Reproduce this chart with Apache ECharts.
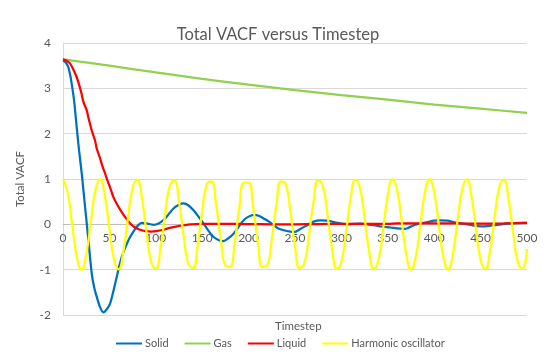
<!DOCTYPE html>
<html>
<head>
<meta charset="utf-8">
<script src="https://cdn.jsdelivr.net/npm/echarts@6/dist/echarts.min.js"></script>
<style>
html,body{margin:0;padding:0;background:#fff;}
#chart{width:549px;height:363px;}
</style>
</head>
<body>
<div id="chart"></div>
<script>
var seriesNames = ['Solid', 'Gas', 'Liquid', 'Harmonic oscillator'];
var xTicks = [0, 50, 100, 150, 200, 250, 300, 350, 400, 450, 500];
var yTicks = [-2, -1, 0, 1, 2, 3, 4];

var solidData = [[0,3.62],[3,3.57],[5.7,3.47],[7.5,3.32],[9.4,3.1],[11.9,2.74],[13.7,2.37],[15.8,1.93],[17.3,1.63],[20.2,1.12],[23.8,0.38],[27.4,-0.35],[31,-1.09],[33.5,-1.38],[36.4,-1.6],[40,-1.83],[43.5,-1.94],[47,-1.88],[50.7,-1.75],[54,-1.5],[57.9,-1.16],[63.3,-0.72],[70.5,-0.35],[77.8,-0.1],[82,0],[85,0.03],[90,0.02],[97.5,-0.01],[103,0.02],[108,0.09],[113,0.2],[119,0.35],[125,0.43],[130,0.46],[135,0.42],[140.7,0.31],[146,0.17],[151.5,0.015],[157,-0.15],[162.3,-0.28],[168,-0.35],[173,-0.37],[178,-0.31],[184,-0.2],[189,-0.06],[194.7,0.09],[200,0.17],[205.5,0.21],[211,0.19],[216.3,0.13],[222,0.06],[227,-0.02],[232,-0.09],[238,-0.13],[245,-0.16],[249,-0.17],[256,-0.1],[263,-0.02],[270,0.06],[277.5,0.09],[285,0.08],[292,0.05],[299,0.02],[306,0],[313,0.01],[320.7,0.015],[328,0],[335,-0.02],[344,-0.05],[353,-0.07],[360,-0.09],[367.5,-0.1],[372,-0.08],[378,-0.02],[385,0.02],[392.6,0.05],[400,0.08],[407,0.09],[414,0.08],[421,0.05],[428,0.02],[436,0],[443,-0.03],[450,-0.045],[457,-0.04],[465,-0.02],[472,0],[479,0.015],[488,0.025],[497,0.03],[500,0.03]];

var gasData = [[0,3.64],[50,3.50],[100,3.35],[150,3.21],[200,3.08],[250,2.96],[300,2.85],[350,2.75],[400,2.64],[450,2.55],[500,2.46]];

var liquidData = [[0,3.64],[3,3.62],[7.5,3.55],[11,3.42],[14.7,3.25],[17.5,3.07],[20,2.88],[22,2.7],[25.5,2.52],[28,2.3],[31,2.07],[34.5,1.85],[36.4,1.67],[40,1.45],[43,1.25],[45.4,1.12],[48,0.96],[51,0.8],[54.3,0.6],[58,0.45],[63.3,0.27],[68,0.13],[72.4,0.02],[77,-0.06],[83,-0.12],[89,-0.15],[95,-0.16],[101,-0.15],[108,-0.12],[115,-0.08],[123,-0.044],[130,-0.02],[137,0],[150,0.01],[175,0.01],[200,0.005],[225,0],[250,0],[275,0.005],[300,0.01],[325,0.01],[350,0.01],[360,0.02],[400,0.02],[425,0.02],[450,0.015],[475,0.02],[500,0.03]];

var harmonicSteps = [0,5,10,15,20,25,30,35,40,45,50,55,60,65,70,75,80,85,90,95,100,105,110,115,120,125,130,135,140,145,150,155,160,165,170,175,180,185,190,195,200,205,210,215,220,225,230,235,240,245,250,255,260,265,270,275,280,285,290,295,300,305,310,315,320,325,330,335,340,345,350,355,360,365,370,375,380,385,390,395,400,405,410,415,420,425,430,435,440,445,450,455,460,465,470,475,480,485,490,495,500];
var harmonicValues = [1.000,0.700,-0.020,-0.728,-0.999,-0.671,0.060,0.755,0.997,0.641,-0.099,-0.780,-0.993,-0.610,0.139,0.804,0.987,0.578,-0.178,-0.827,-0.980,-0.545,0.217,0.849,0.972,0.512,-0.256,-0.869,-0.962,-0.477,0.294,0.888,0.950,0.442,-0.332,-0.906,-0.937,-0.405,0.369,0.922,0.922,0.369,-0.405,-0.937,-0.906,-0.332,0.442,0.950,0.888,0.294,-0.477,-0.962,-0.869,-0.256,0.512,0.972,0.849,0.217,-0.545,-0.980,-0.827,-0.178,0.578,0.987,0.804,0.139,-0.610,-0.993,-0.780,-0.099,0.641,0.997,0.755,0.060,-0.671,-0.999,-0.728,-0.020,0.700,1.000,0.700,-0.020,-0.728,-0.999,-0.671,0.060,0.755,0.997,0.641,-0.099,-0.780,-0.993,-0.610,0.139,0.804,0.987,0.578,-0.178,-0.827,-0.980,-0.545];

var harmonicData = harmonicSteps.map(function (t, i) { return [t, harmonicValues[i]]; });

var FONT = 'Lato';
var TXT = '#595959';
var chart = echarts.init(document.getElementById('chart'), null, {renderer: 'canvas'});
chart.setOption({
  animation: false,
  backgroundColor: '#ffffff',
  title: {
    text: 'Total VACF versus Timestep',
    left: 273, top: 21, textAlign: 'center',
    textStyle: {fontFamily: FONT, fontSize: 16.5, fontWeight: 'normal', color: TXT}
  },
  graphic: [{
    type: 'text', left: 275, top: 320,
    style: {text: 'Timestep', fontFamily: FONT, fontSize: 11.5, fill: TXT}
  }],
  legend: {
    data: seriesNames,
    bottom: 9, left: 111,
    icon: 'rect', itemWidth: 26, itemHeight: 2, itemGap: 16,
    textStyle: {fontFamily: FONT, fontSize: 11, color: TXT, padding: [0,0,0,-2]}
  },
  grid: {left: 63, right: 22, top: 43, bottom: 48, containLabel: false},
  xAxis: {
    type: 'value', min: xTicks[0], max: xTicks[xTicks.length-1], interval: 50,
    axisLine: {onZero: false, lineStyle: {color: '#bfbfbf', width: 1}},
    axisTick: {show: false},
    splitLine: {show: false},
    axisLabel: {fontFamily: FONT, fontSize: 12, color: TXT, margin: 8}
  },
  yAxis: {
    type: 'value', min: yTicks[0], max: yTicks[yTicks.length-1], interval: 1,
    name: 'Total VACF', nameLocation: 'middle', nameRotate: 90, nameGap: 37,
    nameTextStyle: {fontFamily: FONT, fontSize: 11.5, color: TXT},
    axisLine: {show: true, onZero: false, lineStyle: {color: '#d9d9d9', width: 1}},
    axisTick: {show: false},
    splitLine: {lineStyle: {color: '#d9d9d9', width: 1}},
    axisLabel: {fontFamily: FONT, fontSize: 12, color: TXT, margin: 12}
  },
  series: [
    {name: seriesNames[0], type: 'line', data: solidData, showSymbol: false, smooth: 0.3, lineStyle: {color: '#0070C0', width: 2.25}, itemStyle: {color: '#0070C0'}},
    {name: seriesNames[1], type: 'line', data: gasData, showSymbol: false, smooth: 0.3, lineStyle: {color: '#92D050', width: 2.25}, itemStyle: {color: '#92D050'}},
    {name: seriesNames[2], type: 'line', data: liquidData, showSymbol: false, smooth: 0.3, lineStyle: {color: '#FF0000', width: 2.25}, itemStyle: {color: '#FF0000'}},
    {name: seriesNames[3], type: 'line', data: harmonicData, showSymbol: false, smooth: 0.5, lineStyle: {color: '#FFFF00', width: 2.25}, itemStyle: {color: '#FFFF00'}}
  ]
});
// place the x axis (line + labels) on the y = 0 line, as in the reference
var yZeroPx = chart.convertToPixel({yAxisIndex: 0}, 0);
var yMinPx = chart.convertToPixel({yAxisIndex: 0}, yTicks[0]);
chart.setOption({xAxis: {offset: -(yMinPx - yZeroPx)}});
</script>
</body>
</html>
